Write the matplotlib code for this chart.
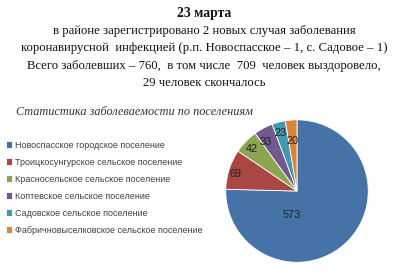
import numpy as np
import matplotlib
matplotlib.use("Agg")
import matplotlib.pyplot as plt

# Data
settlements = [
    "Новоспасское городское поселение",
    "Троицкосунгурское сельское поселение",
    "Красносельское сельское поселение",
    "Коптевское сельское поселение",
    "Садовское сельское поселение",
    "Фабричновыселковское сельское поселение",
]
cases = [573, 69, 42, 33, 23, 20]
colors = ["#4572A7", "#AA4643", "#89A54E", "#71588F", "#4198AF", "#DB843D"]

header_lines = [
    "в районе зарегистрировано 2 новых случая заболевания",
    "коронавирусной  инфекцией (р.п. Новоспасское – 1, с. Садовое – 1)",
    "Всего заболевших – 760,  в том числе  709  человек выздоровело,",
    "29 человек скончалось",
]
date_line = "23 марта"
chart_title = "Статистика заболеваемости по поселениям"

fig = plt.figure(figsize=(4, 2.8), dpi=100)
fig.patch.set_facecolor("white")

# Header text
fig.text(0.51, 0.953, date_line, ha="center", va="center",
         family="Liberation Serif", fontweight="bold", fontsize=9.8, color="#111111")
y = 0.889
for line in header_lines:
    fig.text(0.51, y, line, ha="center", va="center",
             family="Liberation Serif", fontsize=9.2, color="#111111")
    y -= 0.062

fig.text(0.04, 0.60, chart_title, ha="left", va="center", family="Liberation Serif",
         style="italic", fontsize=8.8, color="#333333")

# Pie chart
ax = fig.add_axes([0.5625, 0.0607, 0.36, 0.514])
wedges, texts, autotexts = ax.pie(
    cases, colors=colors, startangle=90, counterclock=False,
    autopct=lambda p: f"{p * sum(cases) / 100:.0f}", pctdistance=0.85,
    wedgeprops=dict(edgecolor="white", linewidth=0.6),
    textprops=dict(family="Liberation Sans", fontsize=7.8, color="#222222"),
)
# label placement similar to the original (angle offset, radius)
label_pos = [(-58, 0.34), (2, 0.9), (1, 0.87), (4, 0.82), (1, 0.85), (1, 0.70)]
for w, t, (off, r) in zip(wedges, autotexts, label_pos):
    ang = np.deg2rad((w.theta1 + w.theta2) / 2 + off)
    t.set_position((r * np.cos(ang), r * np.sin(ang)))
ax.set_xlim(-1.01, 1.01)
ax.set_ylim(-1.01, 1.01)
ax.set_aspect("equal")

# Legend
leg = fig.legend(wedges, settlements, loc="upper left", bbox_to_anchor=(0.005, 0.51),
                 frameon=False, fontsize=6.5, handlelength=0.7, handleheight=0.7,
                 handletextpad=0.3, labelspacing=0.88, borderaxespad=0)
for txt in leg.get_texts():
    txt.set_family("Liberation Sans")
    txt.set_color("#404040")

fig.savefig("out.png", dpi=100)
